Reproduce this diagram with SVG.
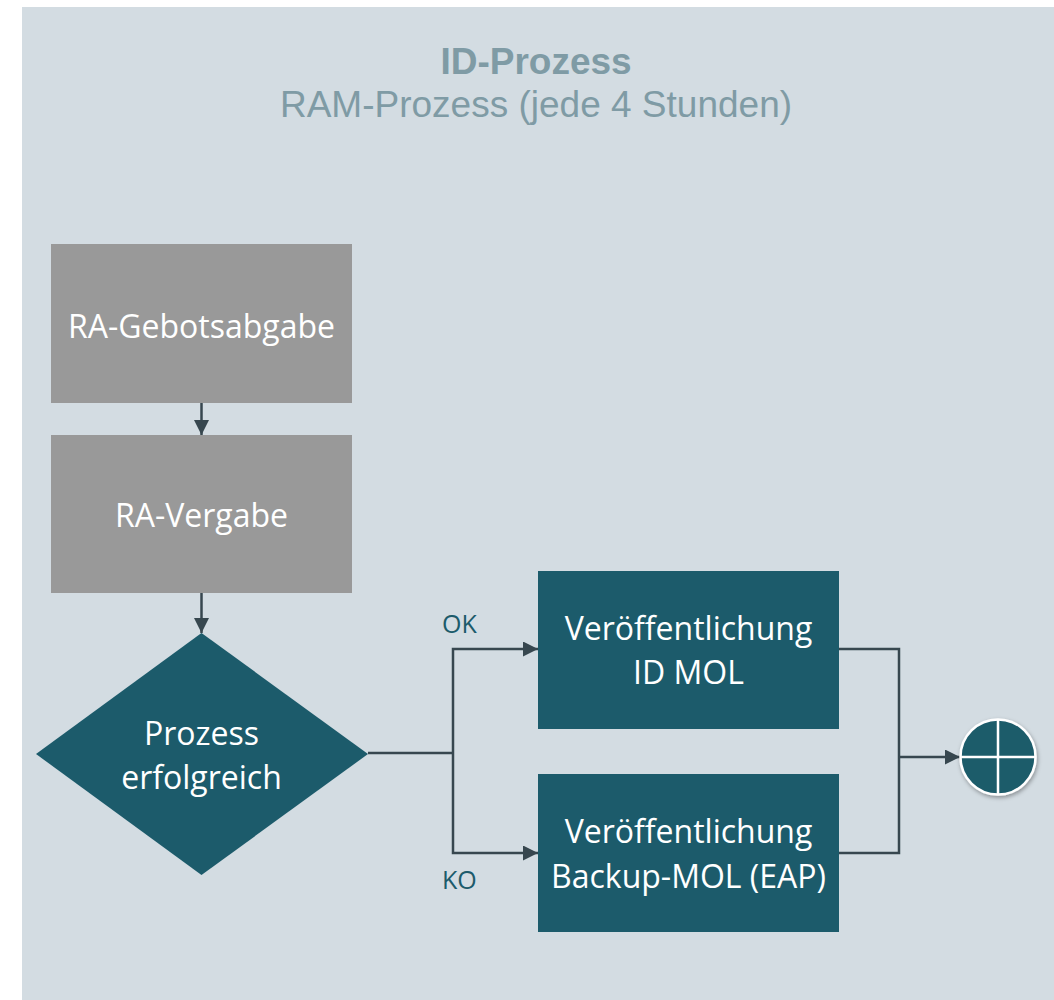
<svg xmlns="http://www.w3.org/2000/svg" width="1054" height="1000" viewBox="0 0 1054 1000">
<defs>
<style>
.title{font-family:"Liberation Sans",Arial,sans-serif;font-size:37px;fill:#7f9ba5;text-anchor:middle}
.lbl{font-family:"Open Sans","Noto Sans",sans-serif;font-size:32px;fill:#ffffff;text-anchor:middle}
.small{font-family:"Open Sans","Noto Sans",sans-serif;font-size:25px;fill:#1c5b6b}
.gray{fill:#999999}
.teal{fill:#1c5b6b}
.conn{fill:none;stroke:#37474f;stroke-width:2.5}
</style>
<marker id="arr" viewBox="0 0 10 10" refX="10" refY="5" markerWidth="6.4" markerHeight="6" markerUnits="strokeWidth" orient="auto">
<path d="M0,0 L10,5 L0,10 z" fill="#37474f"/>
</marker>
<filter id="sh" x="-30%" y="-30%" width="160%" height="160%">
<feDropShadow dx="1" dy="2" stdDeviation="2" flood-color="#000" flood-opacity="0.35"/>
</filter>
</defs>
<rect x="22" y="7" width="1032" height="993" fill="#d3dce2"/>
<text class="title" x="536" y="74" font-weight="bold">ID-Prozess</text>
<text class="title" x="536" y="117">RAM-Prozess (jede 4 Stunden)</text>
<g id="connectors">
<path class="conn" d="M201.5,403 V435" marker-end="url(#arr)"/>
<path class="conn" d="M201.5,593 V633" marker-end="url(#arr)"/>
<path class="conn" d="M368,753 H453"/>
<path class="conn" d="M453,753 V649 H538" marker-end="url(#arr)"/>
<path class="conn" d="M453,753 V853 H538" marker-end="url(#arr)"/>
<path class="conn" d="M838,649 H899 V853 H838"/>
<path class="conn" d="M899,757 H960" marker-end="url(#arr)"/>
</g>
<g id="n1"><rect class="gray" x="51" y="244" width="301" height="159"/><text class="lbl" x="201.5" y="338">RA-Gebotsabgabe</text></g>
<g id="n2"><rect class="gray" x="51" y="435" width="301" height="158"/><text class="lbl" x="201.5" y="527">RA-Vergabe</text></g>
<g id="n3"><polygon class="teal" points="201.5,633 368,754 201.5,875 36,754"/><text class="lbl" x="201.5" y="745">Prozess</text><text class="lbl" x="201.5" y="789">erfolgreich</text></g>
<g id="n4"><rect class="teal" x="538" y="571" width="301" height="158"/><text class="lbl" x="688.5" y="640">Veröffentlichung</text><text class="lbl" x="688.5" y="684">ID MOL</text></g>
<g id="n5"><rect class="teal" x="538" y="774" width="301" height="158"/><text class="lbl" x="688.5" y="843">Veröffentlichung</text><text class="lbl" x="688.5" y="888">Backup-MOL (EAP)</text></g>
<g id="n6"><circle cx="998" cy="757" r="37.5" fill="#1c5b6b" stroke="#ffffff" stroke-width="2.5" filter="url(#sh)"/><path d="M998,719.5 V794.5 M960.5,757 H1035.5" stroke="#ffffff" stroke-width="2.5"/></g>
<text class="small" x="442" y="633">OK</text>
<text class="small" x="442" y="889">KO</text>
</svg>
